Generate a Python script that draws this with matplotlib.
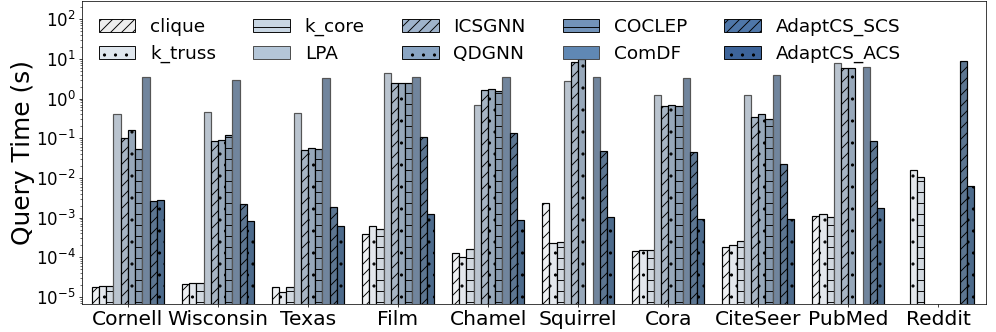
import matplotlib.pyplot as plt
from matplotlib.patches import Patch
import numpy as np

nan = np.nan
datasets = ['Cornell', 'Wisconsin', 'Texas', 'Film', 'Chamel', 'Squirrel',
            'Cora', 'CiteSeer', 'PubMed', 'Reddit']
methods = ['clique', 'k_truss', 'k_core', 'LPA', 'ICSGNN', 'QDGNN',
           'COCLEP', 'ComDF', 'AdaptCS_SCS', 'AdaptCS_ACS']

# query time (s) per method, one value per dataset
clique = [1.75e-5, 2.1e-5, 1.75e-5, 3.8e-4, 1.26e-4, 2.4e-3, 1.44e-4, 1.78e-4, 1.07e-3, nan]
k_truss = [1.86e-5, 2.3e-5, 1.34e-5, 6.2e-4, 1.02e-4, 2.3e-4, 1.56e-4, 2.08e-4, 1.2e-3, 1.55e-2]
k_core = [1.88e-5, 2.2e-5, 1.82e-5, 5.3e-4, 1.59e-4, 2.4e-4, 1.5e-4, 2.6e-4, 1.05e-3, 1.05e-2]
LPA = [0.40, 0.45, 0.42, 4.3, 0.69, 2.8, 1.2, 1.2, 7.7, nan]
ICSGNN = [0.103, 0.087, 0.050, 2.5, 1.6, 8.5, 0.65, 0.34, 5.8, nan]
QDGNN = [0.164, 0.089, 0.0556, 2.5, 1.7, 9.7, 0.70, 0.41, 5.8, nan]
COCLEP = [0.053, 0.12, 0.053, 2.4, 1.55, nan, 0.65, 0.31, nan, nan]
ComDF = [3.4, 3.0, 3.3, 3.4, 3.4, 3.4, 3.2, 3.8, 6.2, nan]
AdaptCS_SCS = [0.0026, 0.0022, 0.0019, 0.105, 0.133, 0.047, 0.044, 0.022, 0.083, 8.8]
AdaptCS_ACS = [0.0027, 0.00081, 0.00062, 0.0012, 0.00087, 0.00102, 0.00092, 0.00094, 0.0017, 0.0064]

values = [clique, k_truss, k_core, LPA, ICSGNN, QDGNN, COCLEP, ComDF, AdaptCS_SCS, AdaptCS_ACS]

hatches = ['//', '.', '-', '', '//', '.', '-', '', '//', '.']
bar_colors = ['#eff1f3', '#e3e7ec', '#d2d9e0', '#bac4cf', '#a7b5c4', '#97a8ba',
              '#8699ae', '#71859d', '#5d7691', '#4c6a8b']
leg_colors = ['#eeeeee', '#dfe6ed', '#c8d6e3', '#b4c6d8', '#9fb3cb', '#8aa5c3',
              '#7293b9', '#6088b4', '#4e76a8', '#3d649a']

plt.rcParams['hatch.linewidth'] = 1.0

fig = plt.figure(figsize=(15, 5))
ax = fig.add_axes([0.0823, 0.0843, 0.9077, 0.9127])

x = np.arange(len(datasets))
w = 0.08
for i, m in enumerate(methods):
    ec = 'black' if hatches[i] else '#555555'
    ax.bar(x + (i - 4.5) * w, values[i], w, color=bar_colors[i],
           edgecolor=ec, hatch=hatches[i], linewidth=1.3)

ax.set_yscale('log')
ax.set_ylim(10 ** -5.176, 10 ** 2.456)
ax.set_xlim(-0.51, 9.53)
ax.set_xticks(x)
ax.set_xticklabels(datasets, fontsize=22)
ax.tick_params(axis='y', labelsize=18)
ax.set_ylabel('Query Time (s)', fontsize=27, labelpad=1)

handles = [Patch(facecolor=leg_colors[i], edgecolor='black' if hatches[i] else '#444444',
                 hatch=hatches[i], label=methods[i]) for i in range(len(methods))]
ax.legend(handles=handles, ncol=5, loc='upper left', frameon=False, fontsize=20)

fig.savefig('out.png', dpi=66.4)
